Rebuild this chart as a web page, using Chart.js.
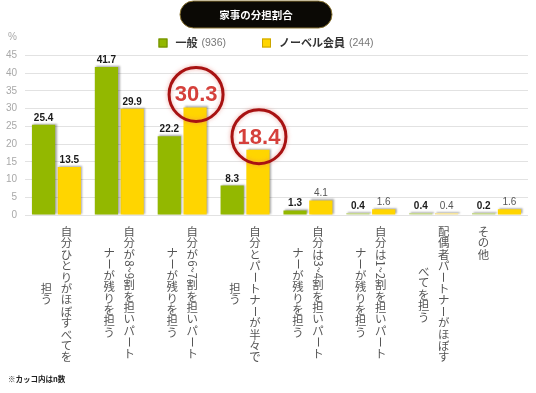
<!DOCTYPE html>
<html lang="ja">
<head>
<meta charset="utf-8">
<script src="https://cdn.jsdelivr.net/npm/chart.js@4.4.1/dist/chart.umd.min.js"></script>
<style>
  html, body { margin: 0; padding: 0; background: #fff; }
</style>
</head>
<body>
<canvas id="chart" width="536" height="393"></canvas>
<script>
// 家事の分担割合
const categories = [
  ["自分ひとりがほぼすべてを", "担う"],
  ["自分が8~9割を担いパート", "ナーが残りを担う"],
  ["自分が6~7割を担いパート", "ナーが残りを担う"],
  ["自分とパートナーが半々で", "担う"],
  ["自分は3~4割を担いパート", "ナーが残りを担う"],
  ["自分は1~2割を担いパート", "ナーが残りを担う"],
  ["配偶者パートナーがほぼす", "べてを担う"],
  ["その他"],
];
const seriesNames = ["一般", "ノーベル会員"];
const seriesN = [936, 244];
const generalValues = [25.4, 41.7, 22.2, 8.3, 1.3, 0.4, 0.4, 0.2];
const nobelValues = [13.5, 29.9, 30.3, 18.4, 4.1, 1.6, 0.4, 1.6];
const yMax = 50; // top tick shows "%"
const circled = [2, 3]; // ノーベル会員 values that get the red ring

const GREEN = "#93b800";
const YELLOW = "#ffd500";
const JP = '"Noto Sans CJK JP", "Noto Sans", sans-serif';
const NUM = '"Liberation Sans", Arial, sans-serif';

// draw a line of text top-to-bottom, ascii runs turned sideways
function columnLength(ctx, text, adv) {
  let len = 0;
  for (const part of text.match(/[\x20-\x7e]+|./gu) || []) {
    len += /^[\x20-\x7e]+$/.test(part) ? ctx.measureText(part).width : adv;
  }
  return len;
}
function drawColumn(ctx, text, x, top, adv) {
  let y = top;
  for (const part of text.match(/[\x20-\x7e]+|./gu) || []) {
    if (/^[\x20-\x7e]+$/.test(part)) {
      const w = ctx.measureText(part).width;
      ctx.save();
      ctx.translate(x, y);
      ctx.rotate(Math.PI / 2);
      ctx.textAlign = "left";
      ctx.textBaseline = "middle";
      ctx.fillText(part, 0, 0);
      ctx.restore();
      y += w;
    } else if (part === "ー") {
      ctx.save();
      ctx.translate(x, y + adv / 2);
      ctx.rotate(Math.PI / 2);
      ctx.textAlign = "center";
      ctx.textBaseline = "middle";
      ctx.fillText(part, 0, 0);
      ctx.restore();
      y += adv;
    } else {
      ctx.textAlign = "center";
      ctx.textBaseline = "top";
      ctx.fillText(part, x, y);
      y += adv;
    }
  }
}

const decorations = {
  id: "decorations",
  beforeDraw(chart) {
    const ctx = chart.ctx;
    ctx.save();
    // title pill
    ctx.beginPath();
    ctx.roundRect(180, 1, 152, 27, 13.5);
    ctx.fillStyle = "#0b0905";
    ctx.fill();
    ctx.strokeStyle = "#8a7535";
    ctx.lineWidth = 1;
    ctx.stroke();
    ctx.fillStyle = "#fff";
    ctx.font = "bold 10.5px " + JP;
    ctx.textAlign = "center";
    ctx.textBaseline = "middle";
    ctx.fillText("家事の分担割合", 256, 15);

    // legend
    const colors = [GREEN, YELLOW];
    const borders = ["#6e8a00", "#c9a400"];
    const items = seriesNames.map((name, i) => {
      ctx.font = "bold 11px " + JP;
      const nw = ctx.measureText(name).width;
      ctx.font = "10.5px " + NUM;
      const cw = ctx.measureText("(" + seriesN[i] + ")").width;
      return { name, count: "(" + seriesN[i] + ")", nw, cw, w: 9 + 8 + nw + 4 + cw };
    });
    const gap = 36;
    const total = items.reduce((s, it) => s + it.w, 0) + gap * (items.length - 1);
    let x = 266 - total / 2;
    const ly = 43;
    ctx.textAlign = "left";
    items.forEach((it, i) => {
      ctx.fillStyle = colors[i];
      ctx.fillRect(x, ly - 4.5, 9, 9);
      ctx.strokeStyle = borders[i];
      ctx.strokeRect(x + 0.5, ly - 4, 8, 8);
      ctx.fillStyle = "#333";
      ctx.font = "bold 11px " + JP;
      ctx.fillText(it.name, x + 17, ly);
      ctx.fillStyle = "#777";
      ctx.font = "10.5px " + NUM;
      ctx.fillText(it.count, x + 17 + it.nw + 4, ly);
      x += it.w + gap;
    });

    // footnote
    ctx.fillStyle = "#222";
    ctx.font = "bold 7.5px " + JP;
    ctx.fillText("※カッコ内はn数", 8, 379);
    ctx.restore();
  },
  beforeDatasetsDraw(chart) {
    const ctx = chart.ctx;
    ctx.save();
    ctx.shadowColor = "rgba(0,0,0,0.35)";
    ctx.shadowBlur = 2;
    ctx.shadowOffsetX = 1.5;
    ctx.shadowOffsetY = -1;
  },
  afterDatasetsDraw(chart) {
    const ctx = chart.ctx;
    ctx.restore();
    ctx.save();

    // value labels
    chart.data.datasets.forEach((ds, di) => {
      chart.getDatasetMeta(di).data.forEach((bar, i) => {
        const v = ds.data[i];
        if (di === 1 && circled.includes(i)) {
          const cy = bar.y - 13;
          ctx.save();
          ctx.beginPath();
          ctx.arc(bar.x + 1, cy, 27, 0, Math.PI * 2);
          ctx.shadowColor = "rgba(230,120,110,0.6)";
          ctx.shadowBlur = 4;
          ctx.strokeStyle = "#a81212";
          ctx.lineWidth = 3;
          ctx.stroke();
          ctx.restore();
          ctx.fillStyle = "#d5403b";
          ctx.font = "bold 22px " + NUM;
          ctx.textAlign = "center";
          ctx.textBaseline = "middle";
          ctx.fillText(v.toFixed(1), bar.x + 1, cy + 1);
          return;
        }
        const muted = di === 1 && i >= 4;
        ctx.fillStyle = muted ? "#555" : "#1a1a1a";
        ctx.font = (muted ? "" : "bold ") + "10px " + NUM;
        ctx.textAlign = "center";
        ctx.textBaseline = "alphabetic";
        ctx.fillText(v.toFixed(1), bar.x, bar.y - 4);
      });
    });

    // vertical category labels
    const xs = chart.scales.x;
    const adv = 11.4;
    ctx.font = "11.4px " + JP;
    ctx.fillStyle = "#555";
    chart.data.labels.forEach((lines, i) => {
      const c = xs.getPixelForValue(i);
      const lens = lines.map((t) => columnLength(ctx, t, adv));
      const maxLen = Math.max(...lens);
      lines.forEach((t, k) => {
        const x = lines.length > 1 ? c + 10 - 20 * k : c - 13;
        drawColumn(ctx, t, x, xs.top + 11 + (maxLen - lens[k]) / 2, adv);
      });
    });
    ctx.restore();
  },
};

new Chart(document.getElementById("chart"), {
  type: "bar",
  data: {
    labels: categories,
    datasets: [
      {
        label: seriesNames[0],
        data: generalValues,
        backgroundColor: (c) => (c.raw < 1 ? "#c6d88e" : GREEN),
      },
      {
        label: seriesNames[1],
        data: nobelValues,
        backgroundColor: (c) => (c.raw < 1 ? "#f6e49a" : YELLOW),
      },
    ],
  },
  options: {
    responsive: false,
    animation: false,
    layout: { padding: { top: 37.5, right: 8, left: 0, bottom: 0 } },
    datasets: {
      bar: { categoryPercentage: 0.82, barPercentage: 0.9, minBarLength: 2 },
    },
    plugins: {
      legend: { display: false },
      tooltip: { enabled: false },
    },
    scales: {
      x: {
        grid: { display: false },
        border: { display: false },
        ticks: { display: false },
        afterFit: (s) => {
          s.height = 178;
        },
      },
      y: {
        min: 0,
        max: yMax,
        border: { display: false },
        grid: {
          drawTicks: false,
          color: (c) => (c.tick && c.tick.value === yMax ? "rgba(0,0,0,0)" : "#e2e2e2"),
        },
        ticks: {
          stepSize: 5,
          padding: 8,
          color: "#a8a8a8",
          font: { size: 10, family: NUM },
          callback: (v) => (v === yMax ? "%" : v),
        },
        afterFit: (s) => {
          s.width = 25;
        },
      },
    },
  },
  plugins: [decorations],
});
</script>
</body>
</html>
